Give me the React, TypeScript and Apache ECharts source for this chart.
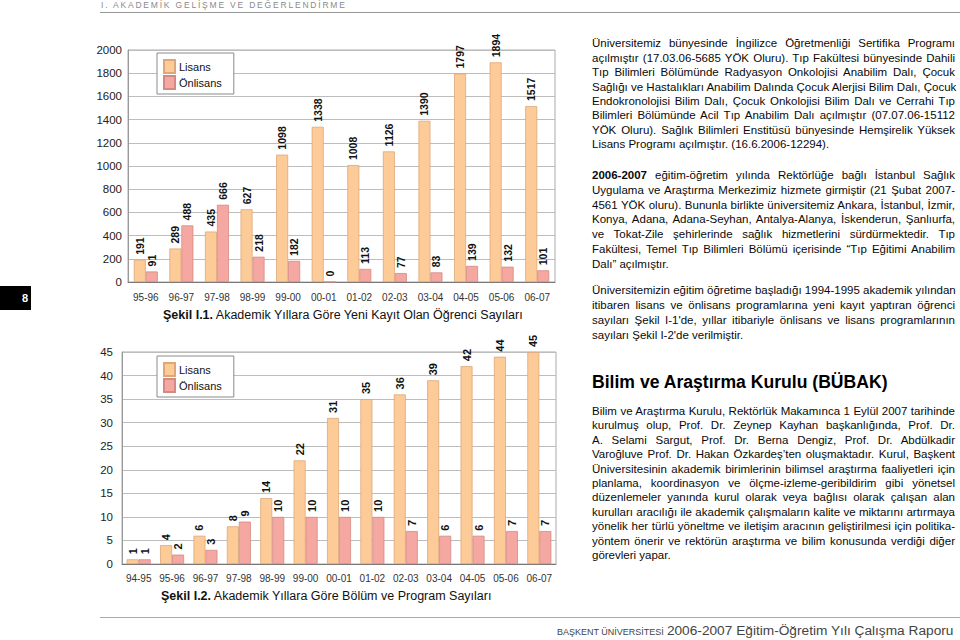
import React, { useEffect, useRef } from "react";
import * as echarts from "echarts";

// ---------- Data ----------
const years1 = ["95-96", "96-97", "97-98", "98-99", "99-00", "00-01", "01-02", "02-03", "03-04", "04-05", "05-06", "06-07"];
const lisans1 = [191, 289, 435, 627, 1098, 1338, 1008, 1126, 1390, 1797, 1894, 1517];
const onlisans1 = [91, 488, 666, 218, 182, 0, 113, 77, 83, 139, 132, 101];

const years2 = ["94-95", "95-96", "96-97", "97-98", "98-99", "99-00", "00-01", "01-02", "02-03", "03-04", "04-05", "05-06", "06-07"];
const lisans2 = [1, 4, 6, 8, 14, 22, 31, 35, 36, 39, 42, 44, 45];
const onlisans2 = [1, 2, 3, 9, 10, 10, 10, 10, 7, 6, 6, 7, 7];

const seriesNames = ["Lisans", "Önlisans"];
const caption1Bold = "Şekil I.1.";
const caption1Text = " Akademik Yıllara Göre Yeni Kayıt Olan Öğrenci Sayıları";
const caption2Bold = "Şekil I.2.";
const caption2Text = " Akademik Yıllara Göre Bölüm ve Program Sayıları";

const headerText = "I. AKADEMİK GELİŞME VE DEĞERLENDİRME";
const pageNumber = "8";

const para1 = [
  "Üniversitemiz bünyesinde İngilizce Öğretmenliği Sertifika Programı",
  "açılmıştır (17.03.06-5685 YÖK Oluru). Tıp Fakültesi bünyesinde Dahili",
  "Tıp Bilimleri Bölümünde Radyasyon Onkolojisi Anabilim Dalı, Çocuk",
  "Sağlığı ve Hastalıkları Anabilim Dalında Çocuk Alerjisi Bilim Dalı, Çocuk",
  "Endokronolojisi Bilim Dalı, Çocuk Onkolojisi Bilim Dalı ve Cerrahi Tıp",
  "Bilimleri Bölümünde Acil Tıp Anabilim Dalı açılmıştır (07.07.06-15112",
  "YÖK Oluru). Sağlık Bilimleri Enstitüsü bünyesinde Hemşirelik Yüksek",
  "Lisans Programı açılmıştır. (16.6.2006-12294).",
];
const para2Bold = "2006-2007";
const para2 = [
  " eğitim-öğretim yılında Rektörlüğe bağlı İstanbul Sağlık",
  "Uygulama ve Araştırma Merkezimiz hizmete girmiştir (21 Şubat 2007-",
  "4561 YÖK oluru). Bununla birlikte üniversitemiz Ankara, İstanbul, İzmir,",
  "Konya, Adana, Adana-Seyhan, Antalya-Alanya, İskenderun, Şanlıurfa,",
  "ve Tokat-Zile şehirlerinde sağlık hizmetlerini sürdürmektedir. Tıp",
  "Fakültesi, Temel Tıp Bilimleri Bölümü içerisinde “Tıp Eğitimi Anabilim",
  "Dalı” açılmıştır.",
];
const para3 = [
  "Üniversitemizin eğitim öğretime başladığı 1994-1995 akademik yılından",
  "itibaren lisans ve önlisans programlarına yeni kayıt yaptıran öğrenci",
  "sayıları Şekil I-1'de, yıllar itibariyle önlisans ve lisans programlarının",
  "sayıları Şekil I-2'de verilmiştir.",
];
const headingText = "Bilim ve Araştırma Kurulu (BÜBAK)";
const para4 = [
  "Bilim ve Araştırma Kurulu, Rektörlük Makamınca 1 Eylül 2007 tarihinde",
  "kurulmuş olup, Prof. Dr. Zeynep Kayhan başkanlığında, Prof. Dr.",
  "A. Selami Sargut, Prof. Dr. Berna Dengiz, Prof. Dr. Abdülkadir",
  "Varoğluve Prof. Dr. Hakan Özkardeş’ten oluşmaktadır. Kurul, Başkent",
  "Üniversitesinin akademik birimlerinin bilimsel araştırma faaliyetleri için",
  "planlama, koordinasyon ve ölçme-izleme-geribildirim gibi yönetsel",
  "düzenlemeler yanında kurul olarak veya bağlısı olarak çalışan alan",
  "kurulları aracılığı ile akademik çalışmaların kalite ve miktarını artırmaya",
  "yönelik her türlü yöneltme ve iletişim aracının geliştirilmesi için politika-",
  "yöntem önerir ve rektörün araştırma ve bilim konusunda verdiği diğer",
  "görevleri yapar.",
];
const footerSmall = "BAŞKENT ÜNİVERSİTESİ";
const footerBig = "2006-2007 Eğitim-Öğretim Yılı Çalışma Raporu";

// ---------- Styles ----------
const FONT = "'Liberation Sans', Arial, Helvetica, sans-serif";
const C_LIS = "#FDCB98";
const C_LIS_B = "#DDA777";
const C_ONL = "#F5A7A1";
const C_ONL_B = "#D48A84";

function barSeries(name: string, data: number[], idx: number, color: string, border: string, fs: number) {
  return {
    type: "bar",
    name,
    data,
    xAxisIndex: idx,
    yAxisIndex: idx,
    barWidth: 12,
    barGap: "0%",
    itemStyle: { color, borderColor: border, borderWidth: 0.8 },
    label: {
      show: true,
      position: "top",
      rotate: 90,
      align: "left",
      verticalAlign: "middle",
      distance: 5,
      color: "#111",
      fontWeight: "bold",
      fontSize: fs,
      fontFamily: FONT,
    },
  };
}

function legend(top: number) {
  return {
    orient: "vertical",
    left: 157,
    top,
    data: seriesNames,
    backgroundColor: "#fff",
    borderColor: "#8a8a8a",
    borderWidth: 1,
    padding: [6, 12, 4, 6],
    itemWidth: 11,
    itemHeight: 13,
    itemGap: 1,
    icon: "rect",
    textStyle: { fontSize: 11, color: "#111", fontFamily: FONT, padding: [0, 0, 0, -1] },
    selectedMode: false,
  };
}

function xAxis(idx: number, data: string[], margin: number) {
  return {
    gridIndex: idx,
    type: "category",
    data,
    axisLine: { lineStyle: { color: "#777" } },
    axisTick: { length: 5, lineStyle: { color: "#666" } },
    axisLabel: { color: "#333", fontSize: 10, margin, fontFamily: FONT },
  };
}

function yAxis(idx: number, max: number, interval: number, margin: number) {
  return {
    gridIndex: idx,
    type: "value",
    min: 0,
    max,
    interval,
    axisLine: { show: true, lineStyle: { color: "#999" } },
    axisTick: { show: false },
    splitLine: { lineStyle: { color: "#bdbdbd" } },
    axisLabel: { color: "#222", fontSize: 11.5, margin, fontFamily: FONT, formatter: (v: number) => String(v) },
  };
}

function Line({ text, y, last, bold }: { text: string; y: number; last?: boolean; bold?: string }) {
  return (
    <div
      style={{
        position: "absolute",
        left: 592,
        width: 363,
        top: y - 7,
        height: 14,
        lineHeight: "14px",
        fontFamily: FONT,
        fontSize: 11.5,
        color: "#0a0a0a",
        whiteSpace: "nowrap",
        textAlign: last ? "left" : "justify",
        textAlignLast: last ? "left" : "justify",
      } as React.CSSProperties}
    >
      {bold ? <b>{bold}</b> : null}
      {text}
    </div>
  );
}

export default function App() {
  const ref = useRef<HTMLDivElement>(null);

  useEffect(() => {
    if (!ref.current) return;
    const chart = echarts.init(ref.current, undefined, { renderer: "svg" });
    chart.setOption({
      animation: false,
      textStyle: { fontFamily: FONT },
      grid: [
        { left: 128, top: 50, width: 427, height: 232, show: true, borderColor: "#aaa", borderWidth: 1 },
        { left: 122, top: 352, width: 434, height: 212, show: true, borderColor: "#aaa", borderWidth: 1 },
      ],
      xAxis: [xAxis(0, years1, 10), xAxis(1, years2, 9)],
      yAxis: [yAxis(0, 2000, 200, 6), yAxis(1, 45, 5, 9)],
      legend: [legend(53), legend(356)],
      series: [
        barSeries(seriesNames[0], lisans1, 0, C_LIS, C_LIS_B, 10.5),
        barSeries(seriesNames[1], onlisans1, 0, C_ONL, C_ONL_B, 10.5),
        barSeries(seriesNames[0], lisans2, 1, C_LIS, C_LIS_B, 11),
        barSeries(seriesNames[1], onlisans2, 1, C_ONL, C_ONL_B, 11),
      ],
      graphic: [
        {
          type: "text",
          left: 163,
          top: 308,
          style: {
            text: "{b|" + caption1Bold + "}" + caption1Text,
            fontSize: 12.5,
            fill: "#111",
            fontFamily: FONT,
            rich: { b: { fontWeight: "bold", fontSize: 12.5, fontFamily: FONT, fill: "#111" } },
          },
        },
        {
          type: "text",
          left: 161,
          top: 589,
          style: {
            text: "{b|" + caption2Bold + "}" + caption2Text,
            fontSize: 12.5,
            fill: "#111",
            fontFamily: FONT,
            rich: { b: { fontWeight: "bold", fontSize: 12.5, fontFamily: FONT, fill: "#111" } },
          },
        },
      ],
    });
    return () => chart.dispose();
  }, []);

  return (
    <div style={{ position: "fixed", left: 0, top: 0, width: 960, height: 640, background: "#fff", overflow: "hidden" }}>
      <div ref={ref} style={{ position: "absolute", left: 0, top: 0, width: 960, height: 640 }} />
      {/* header */}
      <div
        style={{
          position: "absolute",
          left: 101,
          top: 0,
          fontFamily: FONT,
          fontSize: 8.5,
          letterSpacing: 1.8,
          color: "#8a8a8a",
          lineHeight: "10px",
          whiteSpace: "nowrap",
        }}
      >
        {headerText}
      </div>
      <div style={{ position: "absolute", left: 100, top: 12, width: 860, height: 1, background: "#999" }} />
      {/* page tab */}
      <div
        style={{
          position: "absolute",
          left: 0,
          top: 286,
          width: 31,
          height: 24,
          background: "#000",
          color: "#fff",
          fontFamily: FONT,
          fontWeight: "bold",
          fontSize: 11,
          lineHeight: "24px",
          textAlign: "right",
        }}
      >
        <span style={{ marginRight: 3 }}>{pageNumber}</span>
      </div>
      {/* paragraphs */}
      {para1.map((t, i) => (
        <Line key={"a" + i} text={t} y={43.3 + i * 14.4} last={i === para1.length - 1} />
      ))}
      {para2.map((t, i) => (
        <Line key={"b" + i} text={t} y={175 + i * 14.8} last={i === para2.length - 1} bold={i === 0 ? para2Bold : undefined} />
      ))}
      {para3.map((t, i) => (
        <Line key={"c" + i} text={t} y={289.5 + i * 15.2} last={i === para3.length - 1} />
      ))}
      <div
        style={{
          position: "absolute",
          left: 592,
          top: 371,
          fontFamily: FONT,
          fontWeight: 900,
          fontSize: 17.6,
          lineHeight: "22px",
          color: "#000",
          whiteSpace: "nowrap",
        }}
      >
        {headingText}
      </div>
      {para4.map((t, i) => (
        <Line key={"d" + i} text={t} y={411 + i * 14.4} last={i === para4.length - 1} />
      ))}
      {/* footer */}
      <div style={{ position: "absolute", left: 100, top: 617, width: 860, height: 1, background: "#aaa" }} />
      <div
        style={{
          position: "absolute",
          left: 557,
          top: 622,
          fontFamily: FONT,
          color: "#444",
          whiteSpace: "nowrap",
          lineHeight: "16px",
        }}
      >
        <span style={{ fontSize: 9 }}>{footerSmall}</span>
        <span style={{ fontSize: 13.7, marginLeft: 3 }}>{footerBig}</span>
      </div>
    </div>
  );
}
